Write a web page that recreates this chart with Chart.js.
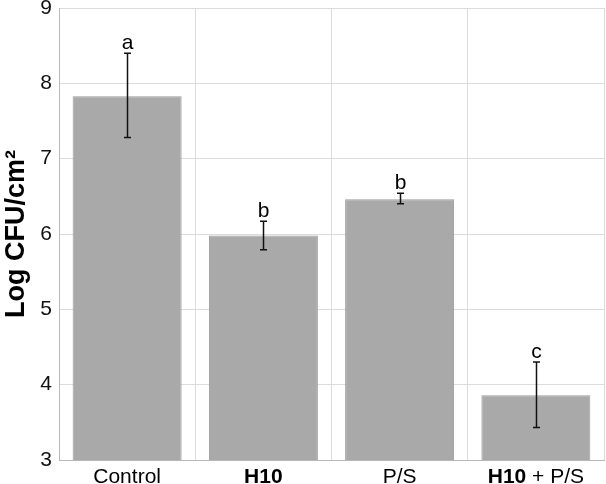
<!DOCTYPE html>
<html>
<head>
<meta charset="utf-8">
<script src="https://cdn.jsdelivr.net/npm/chart.js@4"></script>
<style>
  html, body { margin: 0; padding: 0; background: #fff; }
  #wrap { width: 606px; height: 484px; }
</style>
</head>
<body>
<div id="wrap"><canvas id="myChart" width="606" height="484"></canvas></div>
<script>
// groups and their mean log counts
const categories = ['Control', 'H10', 'P/S', 'H10 + P/S']
const means = [7.83, 5.98, 6.46, 3.86]
const errLow = [7.28, 5.79, 6.40, 3.43]
const errHigh = [8.40, 6.17, 6.54, 4.30]
const letters = ['a', 'b', 'b', 'c']
const yTicks = [3, 4, 5, 6, 7, 8, 9]

// pieces of each x label: [text, bold?]
const labelParts = [
    [['Control', false]],
    [['H10', true]],
    [['P/S', false]],
    [['H10', true], [' + P/S', false]]
]

const FONT = '"Liberation Sans", Arial, sans-serif'

// draws error bars, significance letters and the mixed-weight x labels
const extras = {
    id: 'extras',
    afterDatasetsDraw(chart) {
        const ctx = chart.ctx
        const x = chart.scales.x
        const y = chart.scales.y
        ctx.save()
        ctx.strokeStyle = '#111'
        ctx.lineWidth = 1.5
        for (let i = 0; i < means.length; i++) {
            const cx = Math.round(x.getPixelForValue(i)) + 0.5
            const top = y.getPixelForValue(errHigh[i])
            const bot = y.getPixelForValue(errLow[i])
            ctx.beginPath()
            ctx.moveTo(cx, top); ctx.lineTo(cx, bot)
            ctx.moveTo(cx - 3.5, top); ctx.lineTo(cx + 3.5, top)
            ctx.moveTo(cx - 3.5, bot); ctx.lineTo(cx + 3.5, bot)
            ctx.stroke()

            ctx.fillStyle = '#000'
            ctx.font = '21px ' + FONT
            ctx.textAlign = 'center'
            ctx.textBaseline = 'alphabetic'
            ctx.fillText(letters[i], cx, top - 4)
        }

        // x labels
        ctx.textBaseline = 'alphabetic'
        ctx.textAlign = 'left'
        for (let i = 0; i < labelParts.length; i++) {
            const cx = x.getPixelForValue(i)
            let total = 0
            const widths = labelParts[i].map(p => {
                ctx.font = (p[1] ? 'bold ' : '') + '21px ' + FONT
                const w = ctx.measureText(p[0]).width
                total += w
                return w
            })
            let px = cx - total / 2
            labelParts[i].forEach((p, k) => {
                ctx.font = (p[1] ? 'bold ' : '') + '21px ' + FONT
                ctx.fillText(p[0], px, 483)
                px += widths[k]
            })
        }
        ctx.restore()
    }
}

let myChart = document.getElementById('myChart').getContext('2d')

let barChart = new Chart(myChart, {
    type: 'bar',
    data: {
        labels: categories,
        datasets: [{
            data: means,
            backgroundColor: '#a9a9a9',
            borderColor: '#9b9b9b',
            borderWidth: 1,
            barPercentage: 0.8,
            categoryPercentage: 1.0
        }]
    },
    options: {
        responsive: false,
        animation: false,
        layout: { padding: { top: 8, right: 2, left: 0, bottom: 0 } },
        plugins: {
            legend: { display: false },
            tooltip: { enabled: false }
        },
        scales: {
            x: {
                grid: { color: '#dcdcdc', offset: true, drawTicks: false },
                border: { color: '#b8b8b8' },
                ticks: { display: false },
                afterFit(scale) { scale.height = 24 }
            },
            y: {
                min: 3,
                max: 9,
                afterBuildTicks(scale) { scale.ticks = yTicks.map(v => ({ value: v })) },
                grid: { color: '#dcdcdc', drawTicks: false },
                border: { color: '#b8b8b8' },
                ticks: {
                    color: '#111',
                    font: { family: FONT, size: 21 },
                    padding: 7
                },
                title: {
                    display: true,
                    text: 'Log CFU/cm²',
                    color: '#000',
                    font: { family: FONT, size: 27, weight: 'bold' },
                    padding: { top: 0, bottom: 0 }
                },
                afterFit(scale) {
                    scale.width = 59
                    scale.paddingTop = 0
                    scale.paddingBottom = 0
                }
            }
        }
    },
    plugins: [extras]
})
</script>
</body>
</html>
